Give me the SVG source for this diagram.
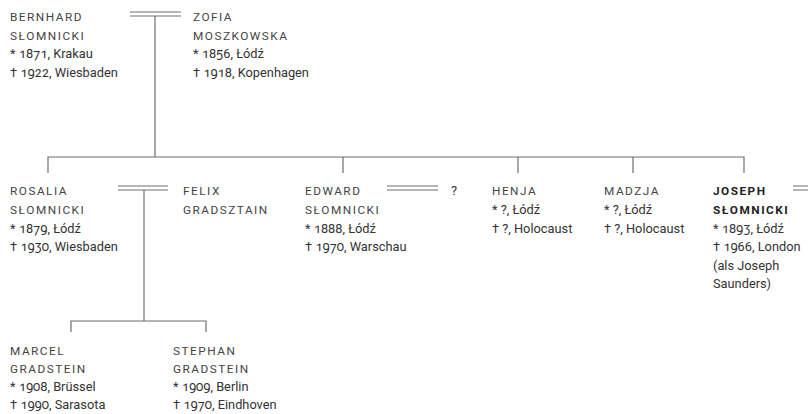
<svg xmlns="http://www.w3.org/2000/svg" width="808" height="414" viewBox="0 0 808 414">
<style>
text{font-family:Roboto,"Liberation Sans",sans-serif;font-size:12.8px;fill:#333;font-variant-numeric:oldstyle-nums}
.n{letter-spacing:1.5px;font-size:11.8px;fill:#444}
.b{font-weight:bold;fill:#222}
.l{stroke:#6e6e6e;stroke-width:1.2;fill:none}
</style>
<rect width="808" height="414" fill="#fff"/>
<g id="connectors" class="l">
<path d="M130 12H181M130 16H181M155 16V157"/>
<path d="M48 173V157H744V173M343 157V173M518 157V173M633 157V173"/>
<path d="M118 186H168M118 190H168M144 190V321"/>
<path d="M71 332V321H206V332"/>
<path d="M387 186H438M387 190H438"/>
<path d="M793 186H808M793 190H808"/>
</g>
<g id="bernhard"><text x="10" y="21" class="n">BERNHARD</text><text x="10" y="39.5" class="n">SŁOMNICKI</text><text x="10" y="58">* 1871, Krakau</text><text x="10" y="76.5">† 1922, Wiesbaden</text></g>
<g id="zofia"><text x="193" y="21" class="n">ZOFIA</text><text x="193" y="39.5" class="n">MOSZKOWSKA</text><text x="193" y="58">* 1856, Łódź</text><text x="193" y="76.5">† 1918, Kopenhagen</text></g>
<g id="rosalia"><text x="10" y="195" class="n">ROSALIA</text><text x="10" y="214" class="n">SŁOMNICKI</text><text x="10" y="232.5">* 1879, Łódź</text><text x="10" y="251">† 1930, Wiesbaden</text></g>
<g id="felix"><text x="183" y="195" class="n">FELIX</text><text x="183" y="214" class="n">GRADSZTAIN</text></g>
<g id="edward"><text x="305" y="195" class="n">EDWARD</text><text x="305" y="214" class="n">SŁOMNICKI</text><text x="305" y="232.5">* 1888, Łódź</text><text x="305" y="251">† 1970, Warschau</text></g>
<g id="unknown"><text x="451" y="195">?</text></g>
<g id="henja"><text x="492" y="195" class="n">HENJA</text><text x="492" y="214">* ?, Łódź</text><text x="492" y="232.5">† ?, Holocaust</text></g>
<g id="madzja"><text x="604" y="195" class="n">MADZJA</text><text x="604" y="214">* ?, Łódź</text><text x="604" y="232.5">† ?, Holocaust</text></g>
<g id="joseph"><text x="713" y="195" class="n b">JOSEPH</text><text x="713" y="214" class="n b">SŁOMNICKI</text><text x="713" y="232.5">* 1893, Łódź</text><text x="713" y="251">† 1966, London</text><text x="713" y="269.5">(als Joseph</text><text x="713" y="288">Saunders)</text></g>
<g id="marcel"><text x="10" y="355" class="n">MARCEL</text><text x="10" y="373" class="n">GRADSTEIN</text><text x="10" y="391">* 1908, Brüssel</text><text x="10" y="409">† 1990, Sarasota</text></g>
<g id="stephan"><text x="173" y="355" class="n">STEPHAN</text><text x="173" y="373" class="n">GRADSTEIN</text><text x="173" y="391">* 1909, Berlin</text><text x="173" y="409">† 1970, Eindhoven</text></g>
</svg>
